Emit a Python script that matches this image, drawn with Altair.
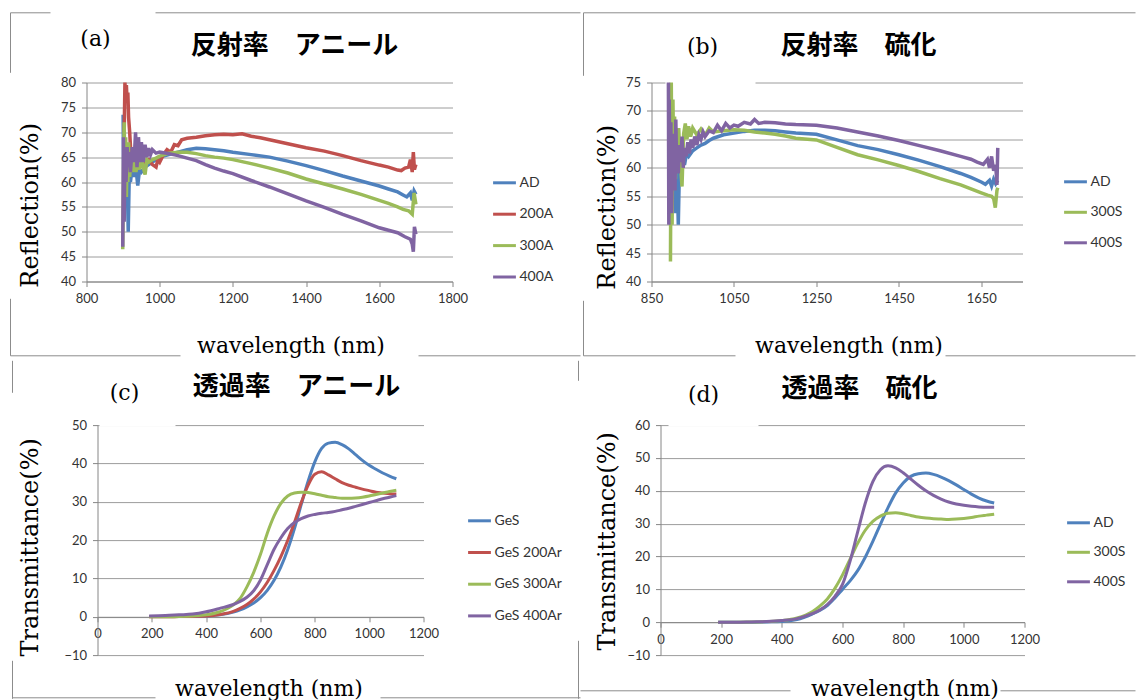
import altair as alt
import pandas as pd

# ---------------- data: (a) reflection, annealing ----------------
a_names = ["AD", "200A", "300A", "400A"]
a_AD_x = [900, 902, 905, 908, 911, 914, 917, 920, 925, 930, 935, 940, 945, 950, 960, 970, 980, 990, 1000, 1025, 1050, 1075, 1100, 1125, 1150, 1175, 1200, 1250, 1300, 1350, 1400, 1450, 1500, 1550, 1600, 1625, 1650, 1665, 1675, 1685, 1690, 1695, 1700]
a_AD_y = [73.5, 58, 66, 55, 62, 50, 62, 60, 63, 61, 63, 59.3, 62.5, 62, 63, 63.5, 64, 64.5, 65, 65.5, 66, 66.5, 66.8, 66.7, 66.5, 66.3, 66, 65.5, 65, 64.2, 63.3, 62.3, 61.2, 60.2, 59.2, 58.6, 58, 57.4, 57, 57.8, 56.3, 58.2, 57.5]
a_200A_x = [903, 905, 907, 909, 911, 913, 915, 918, 921, 925, 930, 940, 950, 960, 970, 980, 990, 995, 1000, 1010, 1020, 1030, 1040, 1050, 1060, 1075, 1100, 1125, 1150, 1175, 1200, 1225, 1250, 1275, 1300, 1350, 1400, 1450, 1500, 1550, 1600, 1625, 1650, 1660, 1670, 1680, 1685, 1690, 1693, 1696, 1700]
a_200A_y = [70, 80, 77, 79.5, 76, 78, 73, 70, 66, 65, 64, 64.5, 65, 64, 64.5, 63.5, 63, 64.5, 64, 65.5, 66.5, 66, 67.5, 67.3, 68.5, 68.8, 69, 69.3, 69.5, 69.6, 69.5, 69.7, 69.2, 68.9, 68.5, 67.7, 66.9, 66.2, 65.3, 64.3, 63.4, 63, 62.4, 62.3, 62.8, 63, 64.5, 62, 66, 62.5, 63.5]
a_300A_x = [899, 901, 903, 905, 907, 909, 911, 913, 915, 918, 921, 925, 930, 935, 940, 945, 950, 955, 960, 965, 970, 980, 990, 1000, 1025, 1050, 1075, 1100, 1125, 1150, 1175, 1200, 1250, 1300, 1350, 1400, 1450, 1500, 1550, 1600, 1625, 1650, 1665, 1680, 1690, 1695, 1700]
a_300A_y = [46.5, 62, 72, 58, 69, 57, 66, 60, 68, 61, 65, 62, 64.5, 62, 64, 62.5, 65, 63, 61.5, 64.5, 64, 64.5, 64.8, 65.2, 65.8, 66, 66, 65.7, 65.3, 65, 64.8, 64.5, 63.7, 62.8, 61.8, 60.6, 59.6, 58.6, 57.5, 56.3, 55.7, 55, 54.5, 54.2, 53.5, 57.8, 55.5]
a_400A_x = [899, 901, 903, 905, 908, 911, 914, 917, 920, 925, 930, 934, 938, 942, 946, 950, 955, 960, 965, 970, 975, 980, 990, 1000, 1025, 1050, 1075, 1100, 1125, 1150, 1175, 1200, 1250, 1300, 1350, 1400, 1450, 1500, 1550, 1600, 1625, 1650, 1670, 1685, 1690, 1693, 1696, 1700]
a_400A_y = [47, 69, 52, 66, 60, 67, 63, 66, 62, 67, 64, 70, 63, 69, 64, 68, 64, 67.5, 65, 66.8, 65.5, 66.5, 65.8, 66, 65.7, 65.3, 64.8, 64.3, 63.5, 62.8, 62.2, 61.7, 60.3, 59, 57.6, 56.2, 54.9, 53.5, 52.2, 50.8, 50.3, 49.8, 49, 48.5, 47.5, 46, 51, 49.5]

# ---------------- data: (b) reflection, sulfurization ----------------
b_names = ["AD", "300S", "400S"]
b_AD_x = [893, 897, 900, 903, 906, 909, 912, 915, 918, 922, 926, 930, 935, 940, 950, 960, 970, 980, 990, 1000, 1025, 1050, 1075, 1100, 1125, 1150, 1175, 1200, 1250, 1300, 1350, 1400, 1450, 1500, 1550, 1600, 1625, 1650, 1660, 1670, 1675, 1680, 1685, 1690]
b_AD_y = [70, 60, 64, 56, 62, 52, 60, 50, 61, 59.5, 62, 60.5, 62.5, 62, 63, 63.5, 64, 64.3, 64.8, 65.2, 65.8, 66.1, 66.4, 66.6, 66.6, 66.5, 66.3, 66.1, 65.9, 64.9, 63.9, 63.2, 62.3, 61.3, 60.2, 59, 58.3, 57.5, 57.1, 57.8, 56.8, 58, 57.2, 57.8]
b_300S_x = [896, 898, 900, 902, 904, 906, 908, 910, 913, 916, 919, 924, 928, 932, 936, 940, 945, 950, 960, 970, 980, 990, 1000, 1025, 1050, 1075, 1100, 1125, 1150, 1175, 1200, 1250, 1300, 1350, 1400, 1450, 1500, 1550, 1600, 1625, 1650, 1665, 1675, 1680, 1684, 1688, 1690]
b_300S_y = [43.5, 75, 50, 72, 60, 69, 58, 66, 61, 67, 62, 56.7, 66, 67.8, 65, 67.3, 65.5, 67, 65.8, 66.8, 65.7, 67, 66.3, 66.5, 66.7, 66.6, 66.3, 66.1, 65.9, 65.6, 65.2, 64.9, 63.6, 62.3, 61.4, 60.4, 59.3, 58.1, 57, 56.3, 55.6, 55.2, 55, 54.6, 53, 56, 56.5]
b_400S_x = [891, 892, 893, 895, 897, 899, 901, 903, 905, 907, 909, 911, 913, 915, 918, 921, 924, 927, 930, 934, 938, 942, 946, 950, 955, 960, 965, 970, 975, 980, 990, 1000, 1010, 1020, 1030, 1040, 1050, 1060, 1075, 1090, 1100, 1110, 1125, 1150, 1175, 1200, 1250, 1300, 1350, 1400, 1450, 1500, 1550, 1600, 1625, 1640, 1655, 1665, 1670, 1675, 1680, 1685, 1688, 1690]
b_400S_y = [75, 50, 72, 55, 68, 52, 66, 58, 64, 56, 68.5, 60, 63, 59, 64, 61, 65.5, 60, 63.5, 62, 64.5, 62.5, 65, 63.5, 65.5, 64, 65.8, 65, 66.3, 65.5, 66.5, 66.2, 67.5, 66.5, 67.8, 67, 67.5, 67.3, 68, 67.7, 68.5, 67.8, 68, 67.9, 67.7, 67.6, 67.5, 67, 66.3, 65.6, 64.8, 63.9, 63, 62, 61.5, 61, 60.6, 61.5, 60, 62, 59.5, 60.5, 57, 63.5]

# ---------------- data: (c) transmittance, annealing ----------------
c_names = ["GeS", "GeS 200Ar", "GeS 300Ar", "GeS 400Ar"]
t_x = [190, 250, 300, 350, 400, 450, 500, 525, 550, 575, 600, 625, 650, 675, 700, 725, 750, 775, 800, 825, 850, 875, 900, 925, 950, 975, 1000, 1025, 1050, 1075, 1100]
c_GeS = [0.1, 0.1, 0.1, 0.1, 0.2, 0.5, 1.2, 1.8, 2.6, 3.6, 5.0, 6.9, 9.5, 13.0, 17.5, 23.0, 29.3, 35.3, 40.4, 43.9, 45.3, 45.5, 44.9, 43.8, 42.3, 40.8, 39.5, 38.5, 37.5, 36.7, 36.0]
c_200Ar = [0.0, 0.0, 0.05, 0.1, 0.2, 0.6, 1.4, 2.2, 3.2, 4.6, 6.5, 9.0, 12.1, 15.7, 19.9, 24.6, 29.8, 34.3, 37.2, 37.8, 37.0, 36.0, 35.0, 34.3, 33.8, 33.3, 32.9, 32.5, 32.3, 32.1, 32.0]
c_300Ar = [0.0, 0.0, 0.05, 0.2, 0.5, 1.3, 3.1, 4.8, 7.8, 11.6, 16.3, 21.8, 26.3, 29.6, 31.5, 32.3, 32.5, 32.4, 32.1, 31.7, 31.3, 31.1, 30.9, 30.9, 31.0, 31.2, 31.5, 31.9, 32.3, 32.7, 33.0]
c_400Ar = [0.2, 0.3, 0.5, 0.7, 1.3, 2.2, 3.2, 4.0, 5.1, 6.8, 9.6, 13.6, 17.6, 20.6, 23.0, 24.6, 25.6, 26.3, 26.7, 27.0, 27.2, 27.5, 27.9, 28.3, 28.8, 29.3, 29.8, 30.3, 30.8, 31.2, 31.6]

# ---------------- data: (d) transmittance, sulfurization ----------------
d_names = ["AD", "300S", "400S"]
d_AD = [0.0, 0.0, 0.0, 0.1, 0.2, 0.8, 2.5, 3.6, 5.1, 7.4, 10.0, 12.6, 15.7, 19.8, 24.6, 29.8, 34.9, 39.3, 42.4, 44.4, 45.2, 45.4, 45.0, 44.2, 43.1, 41.8, 40.4, 39.0, 37.8, 36.9, 36.3]
d_300S = [0.0, 0.0, 0.05, 0.2, 0.5, 1.3, 3.2, 4.9, 7.1, 10.3, 14.4, 19.2, 24.0, 28.0, 30.7, 32.3, 33.2, 33.3, 33.0, 32.5, 32.0, 31.7, 31.5, 31.4, 31.3, 31.4, 31.6, 31.9, 32.3, 32.6, 32.9]
d_400S = [0.0, 0.0, 0.1, 0.2, 0.5, 1.1, 2.6, 3.7, 5.4, 7.9, 11.5, 18.6, 27.5, 36.2, 42.8, 46.4, 47.6, 47.0, 45.5, 43.6, 41.7, 40.0, 38.6, 37.5, 36.6, 36.0, 35.6, 35.3, 35.1, 35.0, 35.0]

# axis / tick labels
a_xticks = [800, 1000, 1200, 1400, 1600, 1800]
a_yticks = [40, 45, 50, 55, 60, 65, 70, 75, 80]
b_xticks = [850, 1050, 1250, 1450, 1650]
b_yticks = [40, 45, 50, 55, 60, 65, 70, 75]
c_xticks = [0, 200, 400, 600, 800, 1000, 1200]
c_yticks = [-10, 0, 10, 20, 30, 40, 50]
d_yticks = [-10, 0, 10, 20, 30, 40, 50, 60]

titles = ["反射率　アニール", "反射率　硫化", "透過率　アニール", "透過率　硫化"]
tags = ["(a)", "(b)", "(c)", "(d)"]
refl_title = "Reflection(%)"
trans_title = "Transmittance(%)"
wl_title = "wavelength (nm)"

COLORS4 = ["#4F81BD", "#C0504D", "#9BBB59", "#8064A2"]
COLORS3 = ["#4F81BD", "#9BBB59", "#8064A2"]

AXIS_GRAY = "#868686"
GRID_GRAY = "#9C9C9C"
LABEL_COLOR = "#333333"
FRAME_GRAY = "#8C8C8C"
SANS = "Lato"
SERIF = "DejaVu Serif"
CJK = "Noto Sans CJK JP"


def long_df(names, xs_list, ys_list):
    rows = []
    for n, xs, ys in zip(names, xs_list, ys_list):
        for xv, yv in zip(xs, ys):
            rows.append({"series": n, "wl": xv, "val": yv})
    return pd.DataFrame(rows)


dummy = pd.DataFrame({"k": [0]})


def panel(df, names, colors, group_xy, data_x0, w_data, h, xdom, xvals, ydom, yvals, ytitle,
          ytitle_abs, xtitle_abs, xaxis_y_abs, legend_abs, row_pad, title, title_abs,
          tag, tag_abs, frames, masks, interp, sw):
    gx, gy = group_xy
    shift = data_x0 - gx
    gw = shift + w_data
    x_off = -(h - (xaxis_y_abs - gy))
    x_axis = alt.Axis(values=xvals, format="d", title=wl_title, grid=False, offset=x_off,
                      titleFont=SERIF, titleFontSize=22, titleFontWeight="normal", titleColor="black",
                      titleX=xtitle_abs[0] - gx, titleY=xtitle_abs[1] - xaxis_y_abs,
                      titleBaseline="middle", titleAlign="center",
                      labelFont=SANS, labelFontSize=13, labelColor=LABEL_COLOR, labelPadding=6,
                      tickSize=5, tickColor=AXIS_GRAY, domainColor=AXIS_GRAY, labelFlush=False)
    y_axis = alt.Axis(values=yvals, format="d", title=ytitle, grid=True, gridColor=GRID_GRAY, offset=-shift,
                      titleFont=SERIF, titleFontSize=24, titleFontWeight="normal", titleColor="black",
                      titleX=ytitle_abs[0] - data_x0, titleY=ytitle_abs[1] - gy, titleAngle=270,
                      titleBaseline="middle", titleAlign="center",
                      labelFont=SANS, labelFontSize=13, labelColor=LABEL_COLOR, labelPadding=6,
                      tickSize=5, tickColor=AXIS_GRAY, domainColor=AXIS_GRAY, labelFlush=False)
    legend = alt.Legend(orient="none", legendX=legend_abs[0] - gx, legendY=legend_abs[1] - gy,
                        title=None, symbolType="stroke", symbolStrokeWidth=3, symbolSize=520,
                        labelFont=SANS, labelFontSize=14, labelColor=LABEL_COLOR, rowPadding=row_pad,
                        labelOffset=2)
    lines = alt.Chart(df).mark_line(strokeWidth=sw, interpolate=interp).encode(
        x=alt.X("wl:Q", scale=alt.Scale(domain=xdom, nice=False, zero=False, range=[shift, gw]), axis=x_axis),
        y=alt.Y("val:Q", scale=alt.Scale(domain=ydom, nice=False, zero=False), axis=y_axis),
        color=alt.Color("series:N", scale=alt.Scale(domain=names, range=colors), sort=names, legend=legend),
    )
    layers = []
    for (x1, x2, yy) in masks:
        layers.append(alt.Chart(dummy).mark_rule(color="white", strokeWidth=3).encode(
            x=alt.value(x1 - gx), x2=alt.value(x2 - gx), y=alt.value(yy - gy)))
    layers.append(lines)
    for seg in frames:
        if seg[0] == "h":
            _, yy, x1, x2 = seg
            layers.append(alt.Chart(dummy).mark_rule(color=FRAME_GRAY, strokeWidth=1).encode(
                x=alt.value(x1 - gx), x2=alt.value(x2 - gx), y=alt.value(yy - gy)))
        else:
            _, xx, y1, y2 = seg
            layers.append(alt.Chart(dummy).mark_rule(color=FRAME_GRAY, strokeWidth=1).encode(
                x=alt.value(xx - gx), y=alt.value(y1 - gy), y2=alt.value(y2 - gy)))
    layers.append(alt.Chart(pd.DataFrame({"t": [title]})).mark_text(
        font=CJK, fontSize=26, fontWeight="bold", color="black", align="center", baseline="middle").encode(
        text="t:N", x=alt.value(title_abs[0] - gx), y=alt.value(title_abs[1] - gy)))
    layers.append(alt.Chart(pd.DataFrame({"t": [tag]})).mark_text(
        font=SERIF, fontSize=22, color="black", align="center", baseline="middle").encode(
        text="t:N", x=alt.value(tag_abs[0] - gx), y=alt.value(tag_abs[1] - gy)))
    return alt.layer(*layers).properties(width=gw, height=h)


dfa = long_df(a_names, [a_AD_x, a_200A_x, a_300A_x, a_400A_x], [a_AD_y, a_200A_y, a_300A_y, a_400A_y])
dfb = long_df(b_names, [b_AD_x, b_300S_x, b_400S_x], [b_AD_y, b_300S_y, b_400S_y])
dfc = long_df(c_names, [t_x] * 4, [c_GeS, c_200Ar, c_300Ar, c_400Ar])
dfd = long_df(d_names, [t_x] * 3, [d_AD, d_300S, d_400S])

COL1_X = 86
COL2_X = 651
ROW1_Y = 81.7
ROW2_Y = 424.3

pa = panel(dfa, a_names, COLORS4, (COL1_X, ROW1_Y), 86, 366, 199, [800, 1800], a_xticks, [40, 80], a_yticks,
           refl_title, (30, 204), (290, 345), ROW1_Y + 199, (491, 169), 11.4, titles[0], (294, 45), tags[0], (95, 38),
           [("h", 12, 10, 50), ("h", 12, 155, 580), ("v", 10, 12, 72), ("v", 10, 298, 355),
            ("h", 355, 10, 180), ("h", 355, 418, 580)], [], "linear", 3.5)
pb = panel(dfb, b_names, COLORS3, (COL2_X, ROW1_Y), 651, 371, 199, [850, 1750], b_xticks, [40, 75], b_yticks,
           refl_title, (607, 206), (848, 345), ROW1_Y + 199, (1062, 168), 10.5, titles[1], (858, 45), tags[1], (702, 46),
           [("h", 12, 583, 1135), ("v", 583, 12, 75), ("v", 583, 300, 355),
            ("h", 355, 583, 735), ("h", 355, 945, 1135)], [(665, 755, ROW1_Y)], "linear", 3.5)
pc = panel(dfc, c_names, COLORS4, (COL1_X, ROW2_Y), 97, 326, 230, [0, 1200], c_xticks, [-10, 50], c_yticks,
           trans_title, (30, 546), (268, 688), 616, (466, 507), 11.7, titles[2], (296, 386), tags[2], (124, 392),
           [("v", 12, 360, 392), ("v", 12, 660, 698), ("h", 697, 12, 155), ("h", 697, 380, 580),
            ("v", 578, 360, 380), ("v", 578, 640, 698)], [(99, 175, ROW2_Y)], "monotone", 3)
pd_ = panel(dfd, d_names, COLORS3, (COL2_X, ROW2_Y), 660, 364, 230, [0, 1200], c_xticks, [-10, 60], d_yticks,
            trans_title, (607, 540), (904, 688), 621.4, (1065, 509), 9.5, titles[3], (859, 388), tags[3], (703, 394),
            [("h", 690, 580, 790), ("h", 690, 1000, 1135)], [(668, 758, ROW2_Y)], "monotone", 3)

chart = alt.concat(
    pa, pb, pc, pd_,
    columns=2, spacing={"row": ROW2_Y - ROW1_Y - 199, "column": COL2_X - COL1_X - 366}, bounds="flush",
).resolve_scale(x="independent", y="independent", color="independent").resolve_legend(
    color="independent"
).properties(
    padding={"left": 9.5, "top": 11.5, "right": 0, "bottom": 0}, background="white"
).configure_view(strokeWidth=0)

chart.save("out.html", embed_options={"renderer": "svg", "actions": False})
